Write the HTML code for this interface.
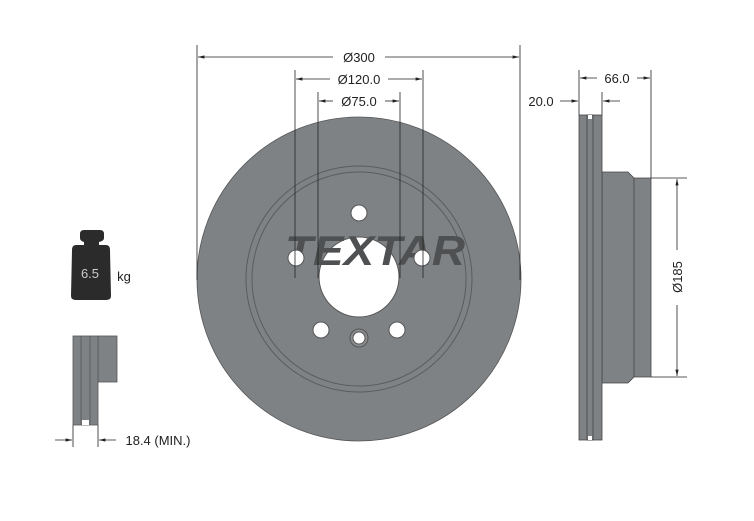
<!DOCTYPE html>
<html><head><style>body{margin:0;background:#fff}</style></head><body>
<svg width="754" height="516" xmlns="http://www.w3.org/2000/svg" font-family="Liberation Sans, sans-serif">
<rect width="754" height="516" fill="#fff"/>
<defs><marker id="a" markerWidth="8" markerHeight="6" refX="8" refY="3" orient="auto"><path d="M0,1 L8,3 L0,5z" fill="#222"/></marker></defs>
<!-- disc -->
<circle cx="359" cy="279" r="162" fill="#7f8285" stroke="#555" stroke-width="0.8"/>
<circle cx="359" cy="279" r="113" fill="none" stroke="#5a5c5e" stroke-width="1"/>
<circle cx="359" cy="279" r="107" fill="none" stroke="#5a5c5e" stroke-width="1"/>
<circle cx="359" cy="277" r="40" fill="#fff" stroke="#555"/>
<text x="285" y="265" font-size="42" font-weight="bold" font-style="italic" fill="#4e5052" textLength="180" lengthAdjust="spacingAndGlyphs">TEXTAR</text>
<g fill="#fff" stroke="#555"><circle cx="359" cy="213" r="8"/><circle cx="296" cy="258" r="8"/><circle cx="422" cy="258" r="8"/><circle cx="321" cy="330" r="8"/><circle cx="397" cy="330" r="8"/><circle cx="359" cy="338" r="9" fill="#8a8c8e"/><circle cx="359" cy="338" r="6"/></g>
<!-- dims -->
<g stroke="#222" stroke-width="0.8" fill="none">
<line x1="197" y1="45" x2="197" y2="280"/><line x1="520" y1="45" x2="520" y2="280"/>
<line x1="295" y1="70" x2="295" y2="278"/><line x1="423" y1="70" x2="423" y2="278"/>
<line x1="318" y1="92" x2="318" y2="278"/><line x1="400" y1="92" x2="400" y2="278"/>
<line x1="333" y1="57" x2="198" y2="57" marker-end="url(#a)"/><line x1="385" y1="57" x2="519" y2="57" marker-end="url(#a)"/>
<line x1="330" y1="79" x2="296" y2="79" marker-end="url(#a)"/><line x1="388" y1="79" x2="422" y2="79" marker-end="url(#a)"/>
<line x1="333" y1="101" x2="319" y2="101" marker-end="url(#a)"/><line x1="385" y1="101" x2="399" y2="101" marker-end="url(#a)"/>
<line x1="579" y1="70" x2="579" y2="115"/><line x1="651" y1="70" x2="651" y2="178"/><line x1="602" y1="92" x2="602" y2="115"/>
<line x1="597" y1="78" x2="580" y2="78" marker-end="url(#a)"/><line x1="637" y1="78" x2="650" y2="78" marker-end="url(#a)"/>
<line x1="560" y1="101" x2="578" y2="101" marker-end="url(#a)"/><line x1="620" y1="101" x2="603" y2="101" marker-end="url(#a)"/>
<line x1="651" y1="178" x2="687" y2="178"/><line x1="651" y1="377" x2="687" y2="377"/>
<line x1="677" y1="250" x2="677" y2="179" marker-end="url(#a)"/><line x1="677" y1="305" x2="677" y2="376" marker-end="url(#a)"/>
<line x1="73" y1="425" x2="73" y2="447"/><line x1="98" y1="425" x2="98" y2="447"/>
<line x1="55" y1="440" x2="72" y2="440" marker-end="url(#a)"/><line x1="116" y1="440" x2="99" y2="440" marker-end="url(#a)"/>
</g>
<g font-size="13" fill="#222" text-anchor="middle">
<text x="359" y="62">Ø300</text><text x="359" y="84">Ø120.0</text><text x="359" y="106">Ø75.0</text>
<text x="617" y="83">66.0</text><text x="541" y="106">20.0</text>
<text x="682" y="277" transform="rotate(-90 682 277)">Ø185</text>
<text x="158" y="445">18.4 (MIN.)</text>
<text x="124" y="281">kg</text>
</g>
<!-- side profile -->
<g fill="#7f8285" stroke="#444" stroke-width="0.8">
<path d="M602,172 L628,172 L634,178 L651,178 L651,377 L634,377 L628,383 L602,383z"/>
<rect x="579" y="115" width="23" height="325"/>
<line x1="634" y1="178" x2="634" y2="377"/>
<rect x="587" y="115" width="6" height="325"/>
</g>
<rect x="588" y="115" width="4" height="4" fill="#fff"/><rect x="588" y="436" width="4" height="4" fill="#fff"/>
<!-- weight -->
<path d="M80,234 Q80,230 84,230 L100,230 Q104,230 104,234 L104,238 Q104,241 99,242 L99,245 L106,245 Q110,245 110,250 L111,296 Q111,300 106,300 L76,300 Q71,300 71,296 L72,250 Q72,245 76,245 L84,245 L84,242 Q80,241 80,238z" fill="#2b2b2b"/>
<text x="90" y="278" font-size="13" fill="#ccc" text-anchor="middle">6.5</text>
<!-- small profile -->
<g fill="#7f8285" stroke="#555" stroke-width="0.8">
<rect x="98" y="336" width="19" height="46"/>
<rect x="73" y="336" width="25" height="89"/>
<line x1="81" y1="336" x2="81" y2="425"/><line x1="90" y1="336" x2="90" y2="425"/>
</g>
<rect x="82" y="420" width="7" height="5" fill="#fff"/>
</svg>
</body></html>
